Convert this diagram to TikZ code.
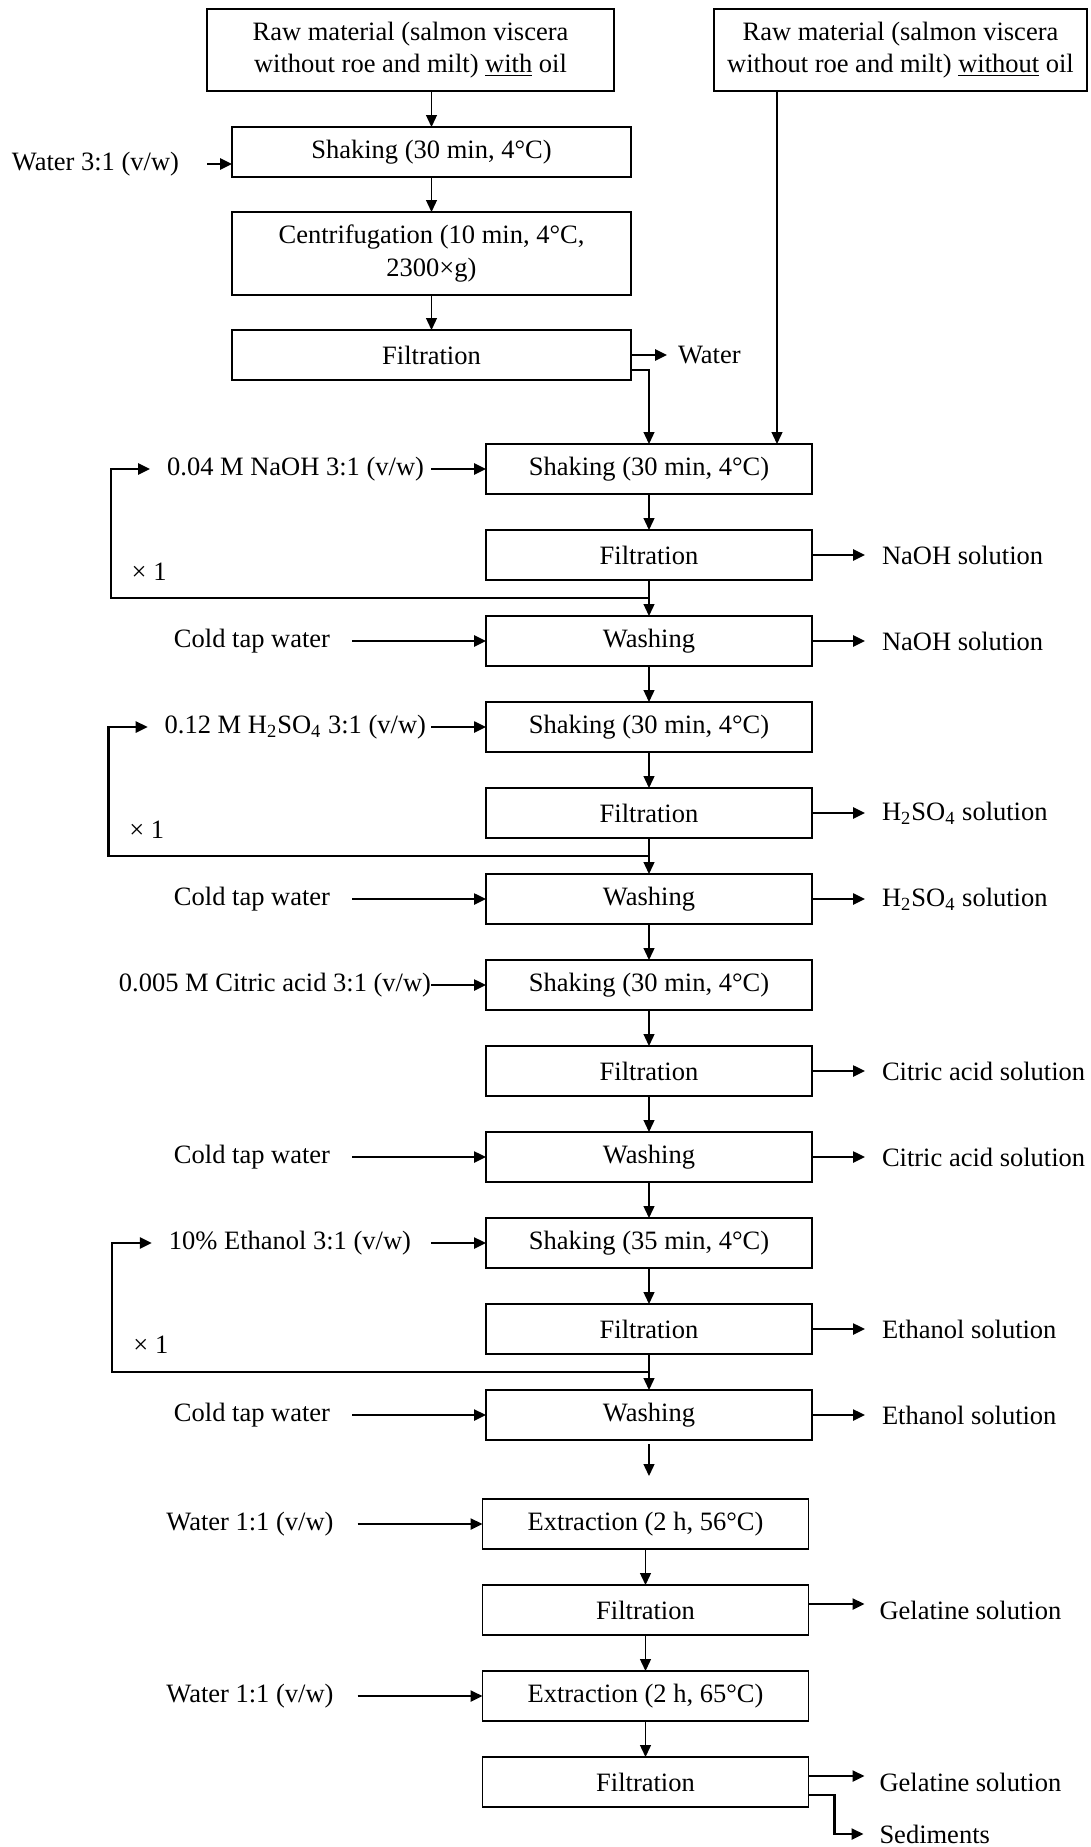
\documentclass[tikz,border=0pt]{standalone}
\usepackage{fontspec}
\setmainfont{Liberation Serif}
\usepackage{tikz}
\usetikzlibrary{arrows.meta,positioning,calc}

\begin{document}
\begin{tikzpicture}[x=1pt,y=-1pt,node distance=18pt,
  font=\fontsize{13.25pt}{16.25pt}\selectfont,
  box/.style={draw,line width=.75pt,minimum width=163pt,minimum height=25pt,inner sep=0pt,outer sep=0pt,align=center},
  lbl/.style={inner sep=0pt,outer sep=0pt},
  flow/.style={-{Triangle[length=6pt,width=5.5pt]},line width=.65pt},
  feed/.style={-{Triangle[length=6pt,width=5.5pt]},line width=1.25pt}]

\useasboundingbox (0,0) rectangle (545.5,923.5);

% raw material
\node [box,minimum width=203.5pt,minimum height=41pt] (raw1) at (205.25,25) {Raw material (salmon viscera\\without roe and milt) \underline{with} oil};
\node [box,minimum width=186.5pt,minimum height=41pt] (raw2) at (450.25,25) {Raw material (salmon viscera\\without roe and milt) \underline{without} oil};

% oil removal
\node [box,minimum width=199.5pt,below=18pt of raw1,xshift=10.5pt] (sh1) {Shaking (30 min, 4°C)};
\node [box,minimum width=199.5pt,minimum height=41.5pt,below=17.5pt of sh1] (cf1) {Centrifugation (10 min, 4°C,\\2300×g)};
\node [box,minimum width=199.5pt,below=17.5pt of cf1] (fl1) {Filtration};
\node [lbl,left=26.5pt of sh1,yshift=-6pt] (in1) {Water 3:1 (v/w)};
\node [lbl,right=23.5pt of fl1] (out1) {Water};

\draw [flow] (sh1.north |- raw1.south) -- (sh1);
\draw [feed,shorten <=14pt] (in1.east) -- (in1.east -| sh1.west);
\draw [flow] (sh1) -- (cf1);
\draw [flow] (cf1) -- (fl1);
\draw [feed,shorten >=5.5pt] (fl1) -- (out1);

% NaOH
\node [box,below=32pt of fl1,xshift=108.75pt] (sh2) {Shaking (30 min, 4°C)};
\node [box,below=of sh2] (fl2) {Filtration};
\node [box,below=of fl2] (wa1) {Washing};
\node [lbl,left=31pt of sh2] (in2) {0.04 M NaOH 3:1 (v/w)};
\node [lbl,right=35pt of fl2] (out2) {NaOH solution};
\node [lbl,left=78pt of wa1] (cold1) {Cold tap water};
\node [lbl,right=35pt of wa1] (out3) {NaOH solution};
\coordinate (j1) at ($(fl2.south)!.5!(wa1.north)$);
\node [lbl] (rep1) at ($(j1 -| in2.west)+(-9pt,13pt)$) {× 1};
\coordinate (r2) at ([xshift=-61.75pt]raw2.south);

\draw [flow] ([yshift=-7.5pt]fl1.east) -| (sh2.north);
\draw [flow] (r2) -- (r2 |- sh2.north);
\draw [feed,shorten <=3.5pt] (in2) -- (sh2);
\draw [flow] (sh2) -- (fl2);
\draw [feed,shorten >=8.5pt] (fl2) -- (out2);
\draw [flow] (fl2) -- (wa1);
\draw [feed,shorten >=8.5pt] (j1) -| ([xshift=-28pt]in2.west) -- (in2.west);
\draw [feed,shorten <=11pt] (cold1) -- (wa1);
\draw [feed,shorten >=8.5pt] (wa1) -- (out3);

% H2SO4
\node [box,below=of wa1] (sh3) {Shaking (30 min, 4°C)};
\node [box,below=of sh3] (fl3) {Filtration};
\node [box,below=of fl3] (wa2) {Washing};
\node [lbl,left=30pt of sh3] (in3) {0.12 M H\textsubscript{2}SO\textsubscript{4} 3:1 (v/w)};
\node [lbl,right=35pt of fl3] (out4) {H\textsubscript{2}SO\textsubscript{4} solution};
\node [lbl,left=78pt of wa2] (cold2) {Cold tap water};
\node [lbl,right=35pt of wa2] (out5) {H\textsubscript{2}SO\textsubscript{4} solution};
\coordinate (j2) at ($(fl3.south)!.5!(wa2.north)$);
\node [lbl] (rep2) at ($(j2 -| in3.west)+(-9pt,13pt)$) {× 1};

\draw [flow] (wa1) -- (sh3);
\draw [feed,shorten <=2.5pt] (in3) -- (sh3);
\draw [flow] (sh3) -- (fl3);
\draw [feed,shorten >=8.5pt] (fl3) -- (out4);
\draw [flow] (fl3) -- (wa2);
\draw [feed,shorten >=8.5pt] (j2) -| ([xshift=-28pt]in3.west) -- (in3.west);
\draw [feed,shorten <=11pt] (cold2) -- (wa2);
\draw [feed,shorten >=8.5pt] (wa2) -- (out5);

% citric acid
\node [box,below=of wa2] (sh4) {Shaking (30 min, 4°C)};
\node [box,below=of sh4] (fl4) {Filtration};
\node [box,below=of fl4] (wa3) {Washing};
\node [lbl,left=27.5pt of sh4] (in4) {0.005 M Citric acid 3:1 (v/w)};
\node [lbl,right=35pt of fl4] (out6) {Citric acid solution};
\node [lbl,left=78pt of wa3] (cold3) {Cold tap water};
\node [lbl,right=35pt of wa3] (out7) {Citric acid solution};

\draw [flow] (wa2) -- (sh4);
\draw [feed] (in4) -- (sh4);
\draw [flow] (sh4) -- (fl4);
\draw [feed,shorten >=8.5pt] (fl4) -- (out6);
\draw [flow] (fl4) -- (wa3);
\draw [feed,shorten <=11pt] (cold3) -- (wa3);
\draw [feed,shorten >=8.5pt] (wa3) -- (out7);

% ethanol
\node [box,below=of wa3] (sh5) {Shaking (35 min, 4°C)};
\node [box,below=of sh5] (fl5) {Filtration};
\node [box,below=of fl5] (wa4) {Washing};
\node [lbl,left=37.5pt of sh5] (in5) {10\% Ethanol 3:1 (v/w)};
\node [lbl,right=35pt of fl5] (out8) {Ethanol solution};
\node [lbl,left=78pt of wa4] (cold4) {Cold tap water};
\node [lbl,right=35pt of wa4] (out9) {Ethanol solution};
\coordinate (j3) at ($(fl5.south)!.5!(wa4.north)$);
\node [lbl] (rep3) at ($(j3 -| in5.west)+(-9pt,13.5pt)$) {× 1};
\coordinate [below=18pt of wa4.south] (end4);

\draw [flow] (wa3) -- (sh5);
\draw [feed,shorten <=10pt] (in5) -- (sh5);
\draw [flow] (sh5) -- (fl5);
\draw [feed,shorten >=8.5pt] (fl5) -- (out8);
\draw [flow] (fl5) -- (wa4);
\draw [feed,shorten >=8.5pt] (j3) -| ([xshift=-28.5pt]in5.west) -- (in5.west);
\draw [feed,shorten <=11pt] (cold4) -- (wa4);
\draw [feed,shorten >=8.5pt] (wa4) -- (out9);
\draw [flow,shorten <=2pt] (wa4) -- (end4);

% extraction
\node [box,below=29.5pt of wa4,xshift=-1.75pt] (ex1) {Extraction (2 h, 56°C)};
\node [box,below=of ex1] (fl6) {Filtration};
\node [box,below=of fl6] (ex2) {Extraction (2 h, 65°C)};
\node [box,below=of ex2] (fl7) {Filtration};
\node [lbl,left=74.5pt of ex1] (in6) {Water 1:1 (v/w)};
\node [lbl,left=74.5pt of ex2] (in7) {Water 1:1 (v/w)};
\node [lbl,right=35.5pt of fl6] (gel1) {Gelatine solution};
\node [lbl,right=35.5pt of fl7] (gel2) {Gelatine solution};
\node [lbl,below=26pt of gel2.west,anchor=west] (sed) {Sediments};
\coordinate (s1) at ([xshift=13pt]fl7.east);

\draw [feed,shorten <=12pt] (in6) -- (ex1);
\draw [flow] (ex1) -- (fl6);
\draw [feed,shorten >=7.5pt] ([yshift=3pt]fl6.east) -- ([yshift=3pt]gel1.west);
\draw [flow] (fl6) -- (ex2);
\draw [feed,shorten <=12pt] (in7) -- (ex2);
\draw [flow] (ex2) -- (fl7);
\draw [feed,shorten >=7.5pt] ([yshift=3pt]fl7.east) -- ([yshift=3pt]gel2.west);
\draw [feed,shorten >=8pt] ([yshift=-6.5pt]fl7.east) -| (s1 |- sed.west) -- (sed.west);

\end{tikzpicture}
\end{document}
